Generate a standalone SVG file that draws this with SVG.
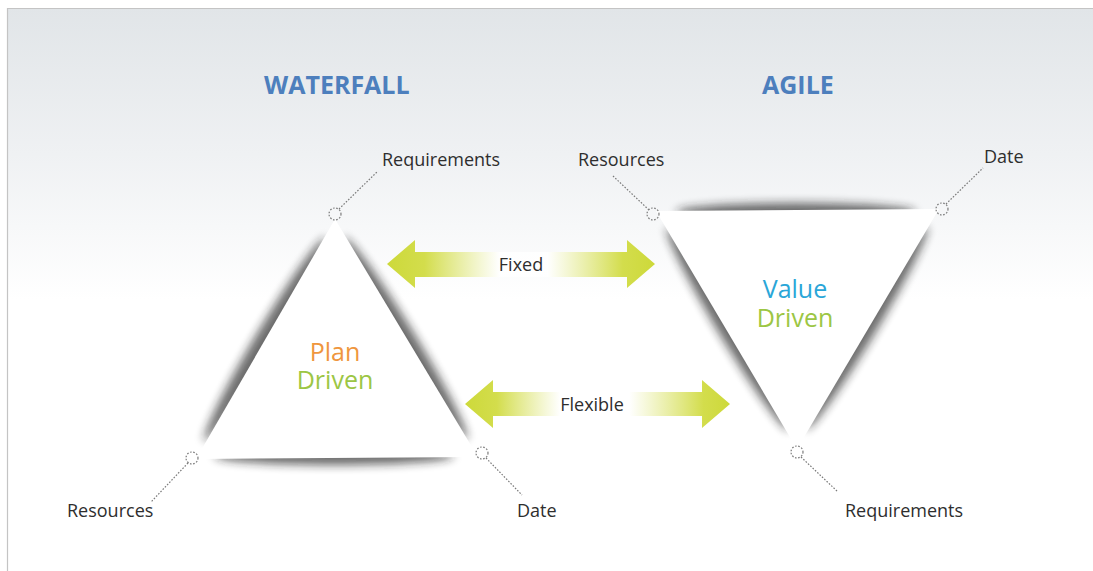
<svg xmlns="http://www.w3.org/2000/svg" width="1093" height="571" viewBox="0 0 1093 571">
<defs>
  <linearGradient id="bg" x1="0" y1="8" x2="0" y2="300" gradientUnits="userSpaceOnUse">
    <stop offset="0" stop-color="#e1e5e8"/>
    <stop offset="0.5" stop-color="#eff1f3"/>
    <stop offset="1" stop-color="#ffffff"/>
  </linearGradient>
  <linearGradient id="gFixed" x1="387" y1="0" x2="655" y2="0" gradientUnits="userSpaceOnUse">
    <stop offset="0" stop-color="#cdd93a"/>
    <stop offset="0.14" stop-color="#d3dd4c"/>
    <stop offset="0.42" stop-color="#ffffff" stop-opacity="0.9"/>
    <stop offset="0.6" stop-color="#ffffff" stop-opacity="0.9"/>
    <stop offset="0.88" stop-color="#d3dd4c"/>
    <stop offset="1" stop-color="#cdd93a"/>
  </linearGradient>
  <linearGradient id="gFlex" x1="465" y1="0" x2="730" y2="0" gradientUnits="userSpaceOnUse">
    <stop offset="0" stop-color="#cdd93a"/>
    <stop offset="0.12" stop-color="#d3dd4c"/>
    <stop offset="0.36" stop-color="#ffffff" stop-opacity="0.9"/>
    <stop offset="0.62" stop-color="#ffffff" stop-opacity="0.9"/>
    <stop offset="0.9" stop-color="#d3dd4c"/>
    <stop offset="1" stop-color="#cdd93a"/>
  </linearGradient>
  <filter id="blur" x="-30%" y="-300%" width="160%" height="700%">
    <feGaussianBlur stdDeviation="5"/>
  </filter>
  <style>
    .lbl{font-family:"Open Sans","Liberation Sans",sans-serif;font-size:18px;fill:#2e2e2e}
    .title{font-family:"Open Sans","Liberation Sans",sans-serif;font-size:25px;font-weight:bold;fill:#4d7fbd}
    .big{font-family:"Open Sans","Liberation Sans",sans-serif;font-size:25px;text-anchor:middle}
    .dot{fill:none;stroke:#7a7a7a;stroke-width:1.2;stroke-dasharray:1.6 1.6}
    .shd{fill:#1e1e1e;opacity:0.65;filter:url(#blur)}
    .tri{fill:#ffffff}
  </style>
</defs>

<rect x="0" y="0" width="1093" height="571" fill="#ffffff"/>
<rect x="7" y="8" width="1086" height="563" fill="url(#bg)"/>
<path d="M7.5 571 V8.5 H1093" fill="none" stroke="#c4c4c4" stroke-width="1.2"/>

<text class="title" x="264" y="94">WATERFALL</text>
<text class="title" x="762" y="94">AGILE</text>

<g id="waterfall">
  <ellipse class="shd" cx="265.2" cy="339.5" rx="118" ry="10" transform="rotate(-59.2 265.2 339.5)"/>
  <ellipse class="shd" cx="405.3" cy="338.5" rx="118" ry="10" transform="rotate(58.6 405.3 338.5)"/>
  <ellipse class="shd" cx="334" cy="456" rx="120" ry="9"/>
  <polygon class="tri" points="335,219 196,459 478,457"/>
  <text class="big" x="335" y="361" fill="#ef963e">Plan</text>
  <text class="big" x="335" y="389" fill="#9cc644">Driven</text>
</g>

<g id="agile">
  <ellipse class="shd" cx="796" cy="212" rx="120" ry="9"/>
  <ellipse class="shd" cx="728.2" cy="329" rx="118" ry="10" transform="rotate(59 728.2 329)"/>
  <ellipse class="shd" cx="866.3" cy="328" rx="118" ry="10" transform="rotate(-59.1 866.3 328)"/>
  <polygon class="tri" points="656,211 939,209 797,449"/>
  <text class="big" x="795" y="298" fill="#2aa6d8">Value</text>
  <text class="big" x="795" y="327" fill="#9cc644">Driven</text>
</g>

<g id="connectors">
  <path d="M387 264 L415 240 L415 252 L627 252 L627 240 L655 264 L627 288 L627 277 L415 277 L415 288 Z" fill="url(#gFixed)"/>
  <path d="M465 404 L493 380 L493 392 L702 392 L702 380 L730 404 L702 428 L702 416 L493 416 L493 428 Z" fill="url(#gFlex)"/>
  <circle class="dot" cx="335" cy="214" r="6"/>
  <circle class="dot" cx="192" cy="458" r="6"/>
  <circle class="dot" cx="482" cy="453" r="6"/>
  <circle class="dot" cx="653" cy="214" r="6"/>
  <circle class="dot" cx="942" cy="209" r="6"/>
  <circle class="dot" cx="797" cy="452" r="6"/>
  <line class="dot" x1="339" y1="209" x2="378" y2="171"/>
  <line class="dot" x1="188" y1="463" x2="151" y2="502"/>
  <line class="dot" x1="486" y1="458" x2="522" y2="495"/>
  <line class="dot" x1="649" y1="210" x2="613" y2="176"/>
  <line class="dot" x1="946" y1="204" x2="983" y2="168"/>
  <line class="dot" x1="801" y1="457" x2="838" y2="492"/>
</g>

<g id="labels">
  <text class="lbl" x="382" y="166">Requirements</text>
  <text class="lbl" x="67" y="517">Resources</text>
  <text class="lbl" x="517" y="517">Date</text>
  <text class="lbl" x="578" y="166">Resources</text>
  <text class="lbl" x="984" y="163">Date</text>
  <text class="lbl" x="845" y="517">Requirements</text>
  <text class="lbl" x="521" y="271" style="text-anchor:middle">Fixed</text>
  <text class="lbl" x="592" y="411" style="text-anchor:middle">Flexible</text>
</g>
</svg>
